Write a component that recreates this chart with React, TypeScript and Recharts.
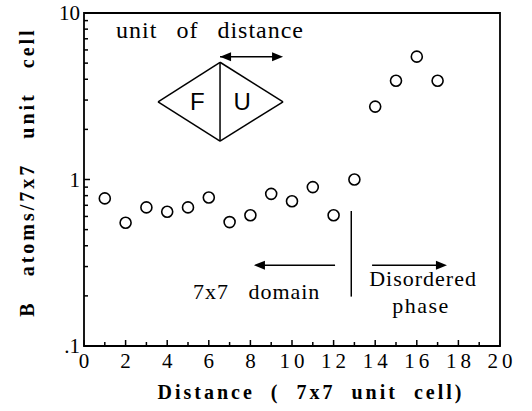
import React from 'react'
import {
  ScatterChart,
  Scatter,
  XAxis,
  YAxis,
  ReferenceArea,
  ReferenceLine,
  ReferenceDot,
} from 'recharts'

// B atom count per 7x7 cell vs distance (log scale)
const distance = [1, 2, 3, 4, 5, 6, 7, 8, 9, 10, 11, 12, 13, 14, 15, 16, 17]
const bAtoms = [0.77, 0.55, 0.68, 0.64, 0.68, 0.78, 0.555, 0.61, 0.82, 0.74, 0.9, 0.61, 1.0, 2.74, 3.92, 5.47, 3.92]

const xTicks = [0, 1, 2, 3, 4, 5, 6, 7, 8, 9, 10, 11, 12, 13, 14, 15, 16, 17, 18, 19, 20]
const yTicks = [0.1, 0.2, 0.3, 0.4, 0.5, 0.6, 0.7, 0.8, 0.9, 1, 2, 3, 4, 5, 6, 7, 8, 9, 10]
const yLabels: Record<number, string> = { 0.1: '.1', 1: '1', 10: '10' }

const data = distance.map((d, i) => ({ distance: d, b: bAtoms[i] }))

const SERIF = 'Liberation Serif'
const SANS = 'Liberation Sans'

function XTick({ x, y, payload }: any) {
  const v = payload.value
  const major = v % 2 === 0
  return (
    <g>
      <line x1={x} x2={x} y1={y} y2={y - (major ? 6 : 4)} stroke="#000" strokeWidth={1.5} />
      {major && (
        <text x={x + 2} y={y + 22} textAnchor="middle" fill="#000" style={{ fontFamily: SERIF, fontSize: 21, letterSpacing: 4 }}>
          {v}
        </text>
      )}
    </g>
  )
}

function YTick({ x, y, payload }: any) {
  const v = payload.value
  const label = yLabels[v]
  return (
    <g>
      <line x1={x} x2={x + (label ? 6 : 4)} y1={y} y2={y} stroke="#000" strokeWidth={1.5} />
      {label && (
        <text x={x - 4} y={y + 7} textAnchor="end" fill="#000" style={{ fontFamily: SERIF, fontSize: 21 }}>
          {label}
        </text>
      )}
    </g>
  )
}

function Circle({ cx, cy }: any) {
  return <circle cx={cx} cy={cy} r={5.5} fill="#fff" stroke="#000" strokeWidth={1.6} />
}

function head(x: number, y: number, dir: number) {
  return `${x},${y} ${x - dir * 11},${y - 4.5} ${x - dir * 11},${y + 4.5}`
}

function Arrow({ x1, y1, x2, y2, both }: any) {
  const dir = x2 > x1 ? 1 : -1
  return (
    <g>
      <line x1={x1} y1={y1} x2={x2 - dir * 6} y2={y2} stroke="#000" strokeWidth={1.5} />
      <polygon points={head(x2, y2, dir)} fill="#000" />
      {both && <polygon points={head(x1, y1, -dir)} fill="#000" />}
    </g>
  )
}

function note(text: string, size: number, family = SERIF, spacing = 0, letters = 0) {
  return ({ cx, cy }: any) => (
    <text
      x={cx}
      y={cy}
      textAnchor="middle"
      dominantBaseline="central"
      fill="#000"
      style={{ fontFamily: family, fontSize: size, whiteSpace: 'pre', wordSpacing: spacing, letterSpacing: letters }}
    >
      {text}
    </text>
  )
}

const line = { stroke: '#000', strokeWidth: 1.5, ifOverflow: 'visible' as const }

export default function App() {
  return (
    <div style={{ position: 'absolute', left: 0, top: 0, background: '#fff' }}>
      <ScatterChart width={532} height={411} margin={{ top: 13, right: 32, bottom: 0, left: 0 }}>
        <XAxis
          type="number"
          dataKey="distance"
          domain={[0, 20]}
          ticks={xTicks}
          allowDataOverflow
          height={65}
          axisLine={false}
          tickLine={false}
          tickSize={0}
          tickMargin={0}
          interval={0}
          tick={<XTick />}
          label={{
            content: () => (
              <text x={311} y={392} textAnchor="middle" dominantBaseline="central" fill="#000" style={{ fontFamily: SERIF, fontSize: 20, fontWeight: 'bold', letterSpacing: 3, whiteSpace: 'pre' }}>
                {'Distance  (  7x7  unit  cell)'}
              </text>
            ),
          }}
        />
        <YAxis
          type="number"
          dataKey="b"
          scale="log"
          domain={[0.1, 10]}
          ticks={yTicks}
          allowDataOverflow
          width={84}
          axisLine={false}
          tickLine={false}
          tickSize={0}
          tickMargin={0}
          interval={0}
          tick={<YTick />}
          label={{
            content: () => (
              <text x={27} y={172} transform="rotate(-90 27 172)" textAnchor="middle" dominantBaseline="central" fill="#000" style={{ fontFamily: SERIF, fontSize: 20, fontWeight: 'bold', letterSpacing: 3, whiteSpace: 'pre' }}>
                {'B   atoms/7x7   unit   cell'}
              </text>
            ),
          }}
        />
        <ReferenceArea x1={0} x2={20} y1={0.1} y2={10} fill="none" stroke="#000" strokeWidth={1.8} />

        {/* unit-cell sketch */}
        <ReferenceLine segment={[{ x: 3.56, y: 2.93 }, { x: 6.54, y: 5.06 }]} {...line} />
        <ReferenceLine segment={[{ x: 6.54, y: 5.06 }, { x: 9.57, y: 2.93 }]} {...line} />
        <ReferenceLine segment={[{ x: 9.57, y: 2.93 }, { x: 6.54, y: 1.7 }]} {...line} />
        <ReferenceLine segment={[{ x: 6.54, y: 1.7 }, { x: 3.56, y: 2.93 }]} {...line} />
        <ReferenceLine segment={[{ x: 6.54, y: 5.06 }, { x: 6.54, y: 1.7 }]} {...line} />
        <ReferenceLine
          segment={[{ x: 6.54, y: 5.46 }, { x: 9.57, y: 5.46 }]}
          {...line}
          shape={(p: any) => <Arrow {...p} both />}
        />
        <ReferenceDot x={5.45} y={2.93} r={0} shape={note('F', 24, SANS)} />
        <ReferenceDot x={7.6} y={2.93} r={0} shape={note('U', 24, SANS)} />
        <ReferenceDot x={6.06} y={7.9} r={0} shape={note('unit of distance', 24, SERIF, 12, 1)} />

        {/* phase boundary */}
        <ReferenceLine segment={[{ x: 12.85, y: 0.647 }, { x: 12.85, y: 0.198 }]} {...line} />
        <ReferenceLine segment={[{ x: 12.07, y: 0.306 }, { x: 8.17, y: 0.306 }]} {...line} shape={(p: any) => <Arrow {...p} />} />
        <ReferenceLine segment={[{ x: 13.85, y: 0.306 }, { x: 17.45, y: 0.306 }]} {...line} shape={(p: any) => <Arrow {...p} />} />
        <ReferenceDot x={8.3} y={0.212} r={0} shape={note('7x7   domain', 22, SERIF, 0, 1)} />
        <ReferenceDot x={16.3} y={0.256} r={0} shape={note('Disordered', 22, SERIF, 0, 1)} />
        <ReferenceDot x={16.2} y={0.175} r={0} shape={note('phase', 22, SERIF, 0, 1.5)} />

        <Scatter data={data} shape={<Circle />} isAnimationActive={false} />
      </ScatterChart>
    </div>
  )
}
